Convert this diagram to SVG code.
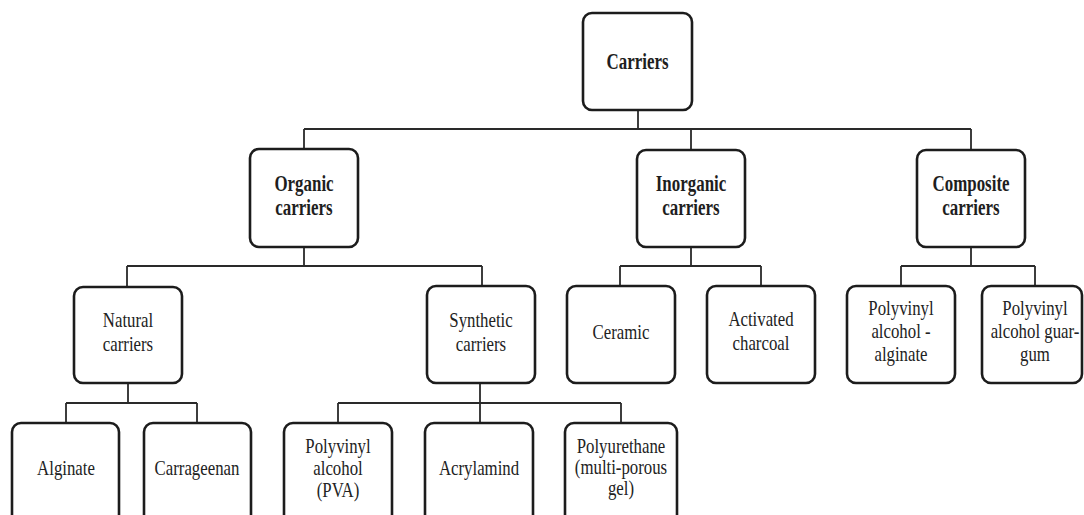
<svg xmlns="http://www.w3.org/2000/svg" width="1084" height="515" viewBox="0 0 1084 515">
<style>
.box{fill:#fff;stroke:#1c1c1c;stroke-width:2.6}
.con{fill:none;stroke:#2a2a2a;stroke-width:1.8}
.b{font-family:"Liberation Serif","Times New Roman",serif;font-weight:bold;font-size:23.5px;fill:#1e1e1e;text-anchor:middle}
.r{font-family:"Liberation Serif","Times New Roman",serif;font-size:21px;fill:#222;text-anchor:middle}
</style>
<rect width="1084" height="515" fill="#fff"/>
<g id="connectors">
<path class="con" d="M638 110V129M304 129H971M304 129V149M691 129V150M971 129V150"/>
<path class="con" d="M304 247V266M127 266H482M127 266V287M482 266V286"/>
<path class="con" d="M691 247V266M620 266H761M620 266V286M761 266V286"/>
<path class="con" d="M971 247V266M901 266H1035M901 266V286M1035 266V286"/>
<path class="con" d="M128 383V403M66 403H197M66 403V423M197 403V423"/>
<path class="con" d="M480 383V403M338 403H621M338 403V423M480 403V423M621 403V423"/>
</g>
<g id="carriers"><rect class="box" x="583" y="13" width="109" height="97" rx="9"/>
<text class="b" transform="matrix(0.72 0 0 1 637.5 68.5)">Carriers</text></g>
<g id="organic"><rect class="box" x="250" y="149" width="108" height="98" rx="9"/>
<text class="b" transform="matrix(0.72 0 0 1 304 191)"><tspan x="0">Organic</tspan><tspan x="0" dy="24">carriers</tspan></text></g>
<g id="inorganic"><rect class="box" x="637" y="150" width="108" height="97" rx="9"/>
<text class="b" transform="matrix(0.72 0 0 1 691 191)"><tspan x="0">Inorganic</tspan><tspan x="0" dy="24">carriers</tspan></text></g>
<g id="composite"><rect class="box" x="917" y="150" width="108" height="97" rx="9"/>
<text class="b" transform="matrix(0.72 0 0 1 971 191)"><tspan x="0">Composite</tspan><tspan x="0" dy="24">carriers</tspan></text></g>
<g id="natural"><rect class="box" x="74" y="287" width="108" height="96" rx="9"/>
<text class="r" transform="matrix(0.8 0 0 1 128 327)"><tspan x="0">Natural</tspan><tspan x="0" dy="24">carriers</tspan></text></g>
<g id="synthetic"><rect class="box" x="427" y="286" width="108" height="97" rx="9"/>
<text class="r" transform="matrix(0.8 0 0 1 481 327)"><tspan x="0">Synthetic</tspan><tspan x="0" dy="24">carriers</tspan></text></g>
<g id="ceramic"><rect class="box" x="567" y="286" width="108" height="97" rx="9"/>
<text class="r" transform="matrix(0.8 0 0 1 621 339)">Ceramic</text></g>
<g id="activated"><rect class="box" x="707" y="286" width="108" height="97" rx="9"/>
<text class="r" transform="matrix(0.8 0 0 1 761 326)"><tspan x="0">Activated</tspan><tspan x="0" dy="24">charcoal</tspan></text></g>
<g id="pva-alginate"><rect class="box" x="847" y="286" width="108" height="97" rx="9"/>
<text class="r" transform="matrix(0.8 0 0 1 901 315)"><tspan x="0">Polyvinyl</tspan><tspan x="0" dy="23">alcohol -</tspan><tspan x="0" dy="23">alginate</tspan></text></g>
<g id="pva-guar"><rect class="box" x="982" y="286" width="100" height="97" rx="9"/>
<text class="r" transform="matrix(0.8 0 0 1 1035 315)"><tspan x="0">Polyvinyl</tspan><tspan x="0" dy="23">alcohol guar-</tspan><tspan x="0" dy="23">gum</tspan></text></g>
<g id="alginate"><rect class="box" x="12" y="423" width="107" height="110" rx="9"/>
<text class="r" transform="matrix(0.8 0 0 1 66 475)">Alginate</text></g>
<g id="carrageenan"><rect class="box" x="144" y="423" width="107" height="110" rx="9"/>
<text class="r" transform="matrix(0.8 0 0 1 197 475)">Carrageenan</text></g>
<g id="pva"><rect class="box" x="284" y="423" width="108" height="110" rx="9"/>
<text class="r" transform="matrix(0.8 0 0 1 338 453)"><tspan x="0">Polyvinyl</tspan><tspan x="0" dy="22">alcohol</tspan><tspan x="0" dy="22">(PVA)</tspan></text></g>
<g id="acrylamind"><rect class="box" x="425" y="423" width="108" height="110" rx="9"/>
<text class="r" transform="matrix(0.8 0 0 1 479 475)">Acrylamind</text></g>
<g id="polyurethane"><rect class="box" x="565" y="423" width="112" height="110" rx="9"/>
<text class="r" transform="matrix(0.8 0 0 1 621 453)"><tspan x="0">Polyurethane</tspan><tspan x="0" dy="21">(multi-porous</tspan><tspan x="0" dy="21">gel)</tspan></text></g>
</svg>
